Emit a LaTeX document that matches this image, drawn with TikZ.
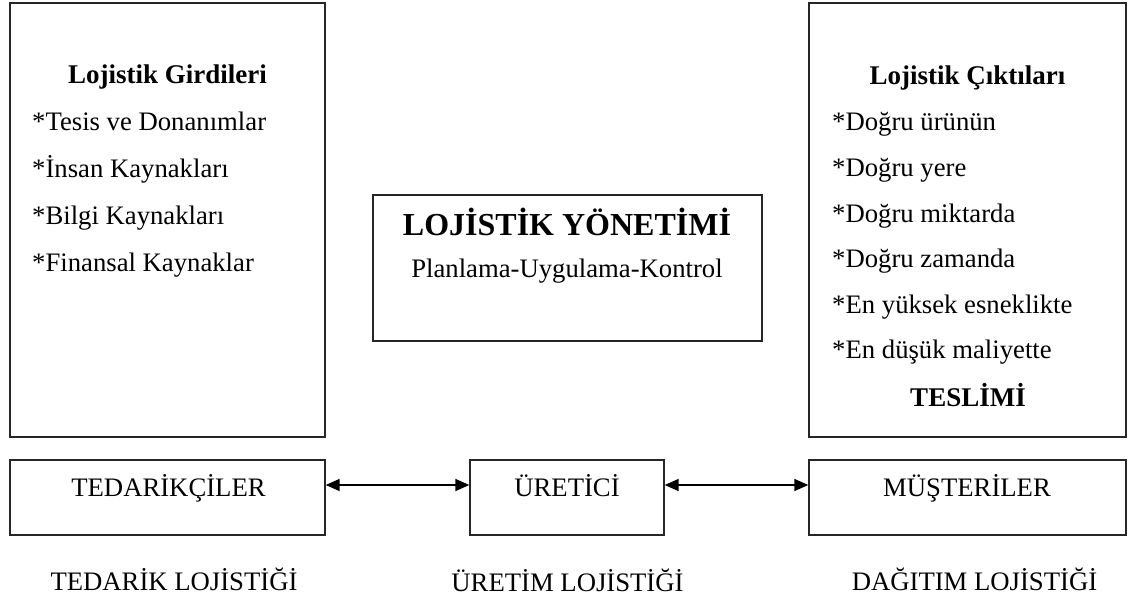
\documentclass[tikz,border=0pt]{standalone}
\usepackage{fontspec}
\setmainfont{Liberation Serif}
\usetikzlibrary{arrows.meta}
\begin{document}
\begin{tikzpicture}[x=1pt,y=-1pt,
  frame/.style={draw=black!85,line width=1.4pt,inner sep=0pt},
  txt/.style={inner sep=0pt,font=\fontsize{26.7}{32}\selectfont},
  head/.style={inner sep=0pt,font=\fontsize{27}{32}\selectfont\bfseries},
  item/.style={txt,anchor=base west},
  flow/.style={line width=1.6pt,{Triangle[length=14pt,width=12pt]}-{Triangle[length=14pt,width=12pt]}}]
\useasboundingbox (0,0) rectangle (1134,600);

% upper boxes
\node[frame,minimum width=315pt,minimum height=434pt] (inbox) at (167.5,220) {};
\node[frame,minimum width=317pt,minimum height=434pt] (outbox) at (967.5,220) {};
\node[frame,minimum width=389pt,minimum height=146pt] (mgmt) at (567.5,268) {};

% inputs
\node[head,anchor=base] (inhead) at (167.5,83) {Lojistik Girdileri};
\node[item] (in1) at (32,130) {*Tesis ve Donanımlar};
\node[item] (in2) at (32,177) {*İnsan Kaynakları};
\node[item] (in3) at (32,224) {*Bilgi Kaynakları};
\node[item] (in4) at (32,271) {*Finansal Kaynaklar};

% outputs
\node[head,anchor=base] (outhead) at (967.5,84) {Lojistik Çıktıları};
\node[item] (out1) at (832,130) {*Doğru ürünün};
\node[item] (out2) at (832,176) {*Doğru yere};
\node[item] (out3) at (832,222) {*Doğru miktarda};
\node[item] (out4) at (832,267) {*Doğru zamanda};
\node[item] (out5) at (832,313) {*En yüksek esneklikte};
\node[item] (out6) at (832,358) {*En düşük maliyette};
\node[head,anchor=base] (outfoot) at (968,406) {TESLİMİ};

% management
\node[inner sep=0pt,anchor=base,font=\fontsize{32}{36}\selectfont\bfseries] (mtitle) at (567,235) {LOJİSTİK YÖNETİMİ};
\node[txt,anchor=base] (msub) at (567,277) {Planlama-Uygulama-Kontrol};

% chain
\node[frame,minimum width=315pt,minimum height=75pt] (sup) at (167.5,497.5) {};
\node[frame,minimum width=194pt,minimum height=75pt] (man) at (567,497.5) {};
\node[frame,minimum width=317pt,minimum height=75pt] (cus) at (967.5,497.5) {};
\node[txt,anchor=base] (supt) at (168.5,496) {TEDARİKÇİLER};
\node[txt,anchor=base] (mant) at (567,496) {ÜRETİCİ};
\node[txt,anchor=base] (cust) at (967,496) {MÜŞTERİLER};

\draw[flow] ([yshift=12.5pt]sup.east) -- ([yshift=12.5pt]man.west);
\draw[flow] ([yshift=12.5pt]man.east) -- ([yshift=12.5pt]cus.west);

% stage labels
\node[txt,anchor=base] (l1) at (174,590) {TEDARİK LOJİSTİĞİ};
\node[txt,anchor=base] (l2) at (567.5,591) {ÜRETİM LOJİSTİĞİ};
\node[txt,anchor=base] (l3) at (974.5,590) {DAĞITIM LOJİSTİĞİ};
\end{tikzpicture}
\end{document}
